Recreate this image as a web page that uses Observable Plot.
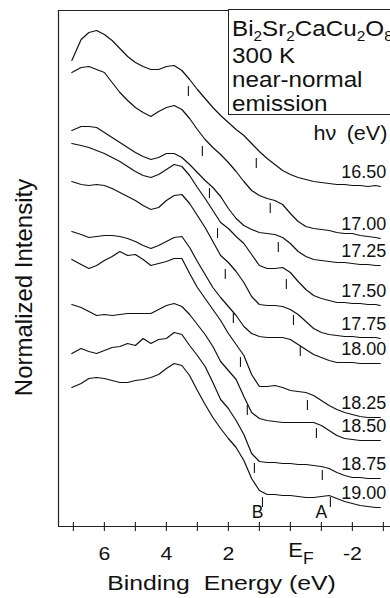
<!DOCTYPE html>
<html>
<head>
<meta charset="utf-8">
<script src="https://cdn.jsdelivr.net/npm/d3@7"></script>
<script src="https://cdn.jsdelivr.net/npm/@observablehq/plot@0.6"></script>
<style>
  html, body { margin: 0; padding: 0; background: #fff; overflow: hidden; }
  #wrap { position: relative; width: 390px; height: 598px; overflow: hidden; font-family: "Liberation Sans", Arial, sans-serif; color: #111; }
  #wrap svg { display: block; position: absolute; left: 0; top: 0; }
  #box { position: absolute; left: 228px; top: 9px; width: 220px; height: 106px; border: 1.2px solid #222; box-sizing: border-box; background: #fff; }
  .ln { position: absolute; left: 232px; font-size: 22px; line-height: 22px; white-space: nowrap; transform: scaleX(1.1); transform-origin: left center; }
  .ln sub { font-size: 14px; vertical-align: -5px; line-height: 0; }
  #hv { position: absolute; right: 3px; top: 123px; font-size: 20px; line-height: 20px; white-space: nowrap; word-spacing: 4px; transform: scaleX(1.08); transform-origin: right center; }
</style>
</head>
<body>
<div id="wrap">
  <div id="box"></div>
  <div class="ln" style="top:18px">Bi<sub>2</sub>Sr<sub>2</sub>CaCu<sub>2</sub>O<sub>8</sub></div>
  <div class="ln" style="top:45px">300 K</div>
  <div class="ln" style="top:69px">near-normal</div>
  <div class="ln" style="top:93px">emission</div>
  <div id="hv">hν (eV)</div>
</div>
<script>
// Binding energy grid (eV), shared by all spectra
const energies = [7.05, 6.75, 6.5, 6.25, 6.0, 5.75, 5.5, 5.25, 5.0, 4.75, 4.5, 4.25, 4.0, 3.75, 3.5, 3.25, 3.0, 2.75, 2.5, 2.25, 2.0, 1.75, 1.5, 1.25, 1.0, 0.75, 0.5, 0.25, 0.0, -0.25, -0.5, -0.75, -1.0, -1.25, -1.5, -1.75, -2.0, -2.25, -2.5, -2.75, -2.9];

// Photon energies (eV), top to bottom
const photonEnergies = [16.5, 17.0, 17.25, 17.5, 17.75, 18.0, 18.25, 18.5, 18.75, 19.0];

// Normalized intensities (offset for display), one array per photon energy
const spec1650 = [4.66, 4.87, 4.94, 4.96, 4.92, 4.86, 4.78, 4.70, 4.64, 4.60, 4.57, 4.57, 4.60, 4.61, 4.56, 4.47, 4.37, 4.28, 4.19, 4.11, 4.04, 3.97, 3.91, 3.83, 3.75, 3.68, 3.62, 3.56, 3.52, 3.49, 3.47, 3.45, 3.44, 3.43, 3.42, 3.42, 3.41, 3.41, 3.40, 3.41, 3.40];
const spec1700 = [4.54, 4.59, 4.60, 4.57, 4.54, 4.44, 4.34, 4.26, 4.19, 4.14, 4.10, 4.15, 4.19, 4.21, 4.17, 4.08, 3.97, 3.87, 3.79, 3.72, 3.64, 3.55, 3.45, 3.36, 3.31, 3.28, 3.26, 3.22, 3.13, 3.05, 3.00, 2.98, 2.97, 2.96, 2.94, 2.93, 2.93, 2.91, 2.90, 2.89, 2.88];
const spec1725 = [3.96, 4.00, 4.00, 3.99, 3.94, 3.89, 3.84, 3.79, 3.74, 3.70, 3.67, 3.69, 3.73, 3.73, 3.69, 3.62, 3.54, 3.46, 3.39, 3.30, 3.18, 3.08, 3.01, 2.97, 2.94, 2.93, 2.92, 2.89, 2.83, 2.75, 2.70, 2.67, 2.66, 2.65, 2.64, 2.64, 2.63, 2.62, 2.62, 2.61, 2.61];
const spec1750 = [3.83, 3.81, 3.79, 3.76, 3.73, 3.69, 3.65, 3.60, 3.55, 3.51, 3.49, 3.52, 3.57, 3.62, 3.60, 3.51, 3.39, 3.28, 3.16, 3.04, 2.98, 2.90, 2.83, 2.72, 2.61, 2.58, 2.58, 2.59, 2.54, 2.45, 2.37, 2.31, 2.28, 2.26, 2.24, 2.24, 2.23, 2.23, 2.22, 2.22, 2.21];
const spec1775 = [3.45, 3.42, 3.41, 3.42, 3.41, 3.38, 3.34, 3.30, 3.26, 3.21, 3.17, 3.19, 3.26, 3.31, 3.32, 3.23, 3.11, 2.99, 2.85, 2.71, 2.64, 2.55, 2.44, 2.30, 2.22, 2.21, 2.21, 2.20, 2.17, 2.12, 2.05, 1.98, 1.94, 1.92, 1.91, 1.90, 1.90, 1.89, 1.89, 1.89, 1.88];
const spec1800 = [2.95, 2.92, 2.89, 2.90, 2.91, 2.91, 2.90, 2.88, 2.85, 2.81, 2.78, 2.81, 2.85, 2.89, 2.90, 2.79, 2.65, 2.52, 2.39, 2.29, 2.20, 2.11, 2.00, 1.93, 1.90, 1.89, 1.89, 1.89, 1.87, 1.82, 1.77, 1.72, 1.69, 1.66, 1.64, 1.64, 1.64, 1.63, 1.63, 1.63, 1.63];
const spec1825 = [2.67, 2.62, 2.58, 2.61, 2.66, 2.70, 2.75, 2.71, 2.72, 2.67, 2.61, 2.63, 2.65, 2.68, 2.68, 2.53, 2.39, 2.28, 2.17, 2.06, 1.93, 1.82, 1.71, 1.52, 1.40, 1.40, 1.41, 1.39, 1.36, 1.35, 1.34, 1.31, 1.26, 1.21, 1.17, 1.14, 1.12, 1.10, 1.09, 1.09, 1.09];
const spec1850 = [2.22, 2.19, 2.15, 2.11, 2.12, 2.11, 2.12, 2.13, 2.13, 2.13, 2.13, 2.17, 2.21, 2.23, 2.20, 2.12, 2.02, 1.92, 1.80, 1.65, 1.56, 1.47, 1.30, 1.14, 1.08, 1.06, 1.05, 1.04, 1.04, 1.04, 1.04, 1.04, 1.01, 0.96, 0.91, 0.88, 0.87, 0.86, 0.86, 0.86, 0.86];
const spec1875 = [1.73, 1.78, 1.75, 1.73, 1.76, 1.79, 1.80, 1.83, 1.81, 1.88, 1.83, 1.87, 1.88, 1.94, 1.92, 1.81, 1.71, 1.60, 1.44, 1.27, 1.18, 1.06, 0.92, 0.73, 0.65, 0.64, 0.64, 0.63, 0.63, 0.62, 0.62, 0.61, 0.60, 0.58, 0.54, 0.51, 0.49, 0.49, 0.48, 0.48, 0.48];
const spec1900 = [1.39, 1.43, 1.48, 1.49, 1.48, 1.46, 1.44, 1.44, 1.46, 1.47, 1.49, 1.52, 1.58, 1.63, 1.61, 1.51, 1.36, 1.22, 1.09, 0.98, 0.88, 0.79, 0.66, 0.48, 0.36, 0.32, 0.32, 0.31, 0.31, 0.30, 0.29, 0.29, 0.30, 0.31, 0.28, 0.25, 0.23, 0.21, 0.20, 0.19, 0.19];

// Peak markers: feature B and feature A (binding energy, intensity level)
const peakB_E = [3.29, 2.84, 2.61, 2.35, 2.10, 1.84, 1.61, 1.39, 1.16, 0.90];
const peakB_I = [4.35, 3.75, 3.33, 2.93, 2.52, 2.08, 1.64, 1.16, 0.58, 0.24];
const peakA_E = [1.10, 0.65, 0.39, 0.13, -0.10, -0.32, -0.55, -0.84, -1.03, -1.29];
const peakA_I = [3.63, 3.18, 2.79, 2.42, 2.06, 1.75, 1.21, 0.93, 0.51, 0.24];

// Axis
const axisTicks = [7, 6, 5, 4, 3, 2, 1, 0, -1, -2, -3];
const tickLabelValues = [6, 4, 2, 0, -2];
const tickLabelTexts = ["6", "4", "2", "E_F", "-2"];
const bandLabels = ["B", "A"];
const bandLabelE = [1.06, -1.0];
const xTitle = "Binding\u00a0 Energy (eV)";
const yTitle = "Normalized Intensity";
const xDomain = [7.48, -3.23];
const yDomain = [0, 5.16];

const spectra = [spec1650, spec1700, spec1725, spec1750, spec1775, spec1800, spec1825, spec1850, spec1875, spec1900];
const rows = [];
spectra.forEach((s, k) => s.forEach((v, i) => rows.push({hv: photonEnergies[k], E: energies[i], I: v})));
const ends = spectra.map((s, k) => ({E: energies[energies.length - 1], I: s[s.length - 1], label: photonEnergies[k].toFixed(2)}));
const markers = [
  ...peakB_E.map((e, i) => ({E: e, I: peakB_I[i]})),
  ...peakA_E.map((e, i) => ({E: e, I: peakA_I[i]}))
];
const tickLabels = tickLabelValues.map((v, i) => ({v, t: tickLabelTexts[i]}));
const bands = bandLabels.map((t, i) => ({t, E: bandLabelE[i]}));
const half = 0.05;

const FONT = '"Liberation Sans", Arial, Helvetica, sans-serif';
const ink = "#111";

const svg = Plot.plot({
  width: 390,
  height: 598,
  marginTop: 10,
  marginLeft: 58,
  marginRight: 0,
  marginBottom: 72,
  x: {domain: xDomain, axis: null},
  y: {domain: yDomain, axis: null},
  style: {fontFamily: FONT, fontSize: "18px", background: "transparent", overflow: "visible", color: ink},
  marks: [
    Plot.ruleX([xDomain[0]], {stroke: "#222", strokeWidth: 1.2}),
    Plot.ruleY(yDomain, {stroke: "#222", strokeWidth: 1.2}),
    Plot.ruleX(axisTicks, {x: d => d, y1: -0.05, y2: 0.04, stroke: "#222", strokeWidth: 1.1}),
    Plot.line(rows, {x: "E", y: "I", z: "hv", stroke: ink, strokeWidth: 1.2}),
    Plot.ruleX(markers, {x: "E", y1: d => d.I - half, y2: d => d.I + half, stroke: ink, strokeWidth: 1.1}),
    Plot.text(ends, {x: "E", y: "I", text: "label", textAnchor: "end", lineAnchor: "middle", dx: 6, dy: -14, fontSize: 18, fill: ink}),
    Plot.text(tickLabels.filter(d => d.t !== "E_F"), {x: "v", text: "t", frameAnchor: "bottom", textAnchor: "middle", lineAnchor: "middle", dy: 27, fontSize: 19, fill: ink}),
    Plot.text(tickLabels.filter(d => d.t === "E_F"), {x: "v", text: "t", frameAnchor: "bottom", textAnchor: "start", lineAnchor: "middle", dx: -2, dy: 24, fontSize: 20, fill: ink}),
    Plot.text([xTitle], {text: d => d, frameAnchor: "bottom", textAnchor: "middle", lineAnchor: "middle", dx: -3, dy: 57, fontSize: 21, fill: ink}),
    Plot.text([yTitle], {text: d => d, frameAnchor: "left", textAnchor: "middle", lineAnchor: "middle", rotate: -90, dx: -34, dy: 19, fontSize: 24, fill: ink}),
    Plot.text(bands, {x: "E", text: "t", frameAnchor: "bottom", textAnchor: "middle", lineAnchor: "middle", dy: -14, fontSize: 17.5, fill: ink})
  ]
});

// horizontal widening of some labels to match the reference's wide lettering
const stretchFor = (s) => {
  if (s === xTitle) return 1.18;
  if (["6", "4", "2", "-2"].includes(s)) return 1.12;
  if (s === "E_F") return 1.1;
  return 1;
};
svg.querySelectorAll("text").forEach(t => {
  const s = t.textContent;
  const k = stretchFor(s);
  if (s === "E_F") {
    t.textContent = "";
    const ns = "http://www.w3.org/2000/svg";
    const a = document.createElementNS(ns, "tspan");
    a.textContent = "E";
    const b = document.createElementNS(ns, "tspan");
    b.textContent = "F";
    b.setAttribute("font-size", "16");
    b.setAttribute("dy", "7");
    t.appendChild(a);
    t.appendChild(b);
  }
  if (k !== 1) {
    const tr = t.getAttribute("transform");
    if (tr) t.setAttribute("transform", tr + ` scale(${k},1)`);
    else {
      const x = +t.getAttribute("x") || 0, y = +t.getAttribute("y") || 0;
      t.removeAttribute("x"); t.removeAttribute("y");
      t.setAttribute("transform", `translate(${x},${y}) scale(${k},1)`);
    }
  }
});

const wrap = document.getElementById("wrap");
wrap.insertBefore(svg, wrap.firstChild);
</script>
</body>
</html>
